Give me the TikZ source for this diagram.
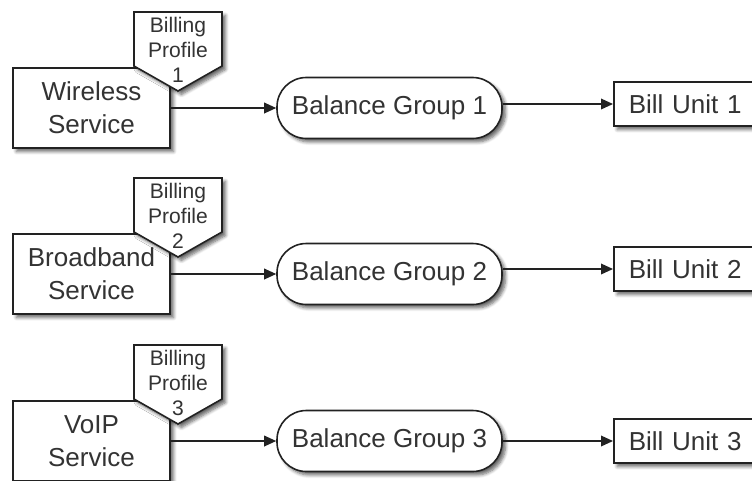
\documentclass[tikz,border=0pt]{standalone}
\usepackage{fontspec}
\setmainfont{Liberation Sans}
\usetikzlibrary{arrows.meta,shadows.blur}
\definecolor{ink}{HTML}{333333}
\definecolor{edge}{HTML}{222222}
\tikzset{
  shd/.style={blur shadow={shadow xshift=2.6pt, shadow yshift=-2.6pt, shadow blur steps=6, shadow blur radius=2.5pt, shadow opacity=60}},
  base/.style={draw=edge, line width=1.2pt, fill=white, shd, text=ink, inner sep=0pt},
  svc/.style={base, minimum width=117.75pt, minimum height=60pt, align=center,
    font=\fontsize{19.5}{24.75}\selectfont},
  bal/.style={base, minimum width=168.75pt, minimum height=45.75pt, rounded corners=22pt,
    font=\fontsize{19.5}{24}\selectfont},
  unit/.style={base, minimum height=33pt, text width=105pt, inner xsep=11.25pt, align=left,
    font=\fontsize{19.5}{24}\selectfont},
  pent/.style={draw=edge, line width=1.2pt, fill=white, shd},
  ptext/.style={text=ink, inner sep=0pt, align=center, font=\fontsize{15.8}{19}\selectfont},
  arr/.style={draw=edge, line width=1pt, -{Triangle[length=9pt,width=8pt]}}
}
\begin{document}
\begin{tikzpicture}[x=0.75pt,y=-0.75pt]
\useasboundingbox (0,0) rectangle (752,480);
\foreach \i/\t/\cy/\by in {1/Wireless/108/104, 2/Broadband/274/269, 3/VoIP/441/441}{
  \node[svc] (s\i) at (91.5,\cy) {\t\\Service};
  \path[pent] (134,\cy-96) -- (222,\cy-96) -- (222,\cy-42) -- (178,\cy-17) -- (134,\cy-42) -- cycle;
  \node[ptext] (p\i) at (178,\cy-58) {Billing\\Profile\\\i};
  \node[bal] (b\i) at (389.5,\cy) {Balance Group \i};
  \node[unit, anchor=west] (u\i) at (613,\by) {Bill Unit \i};
  \draw[arr] (s\i) -- (b\i);
  \draw[arr] (b\i.east |- u\i.west) -- (u\i.west);
}
\end{tikzpicture}
\end{document}
